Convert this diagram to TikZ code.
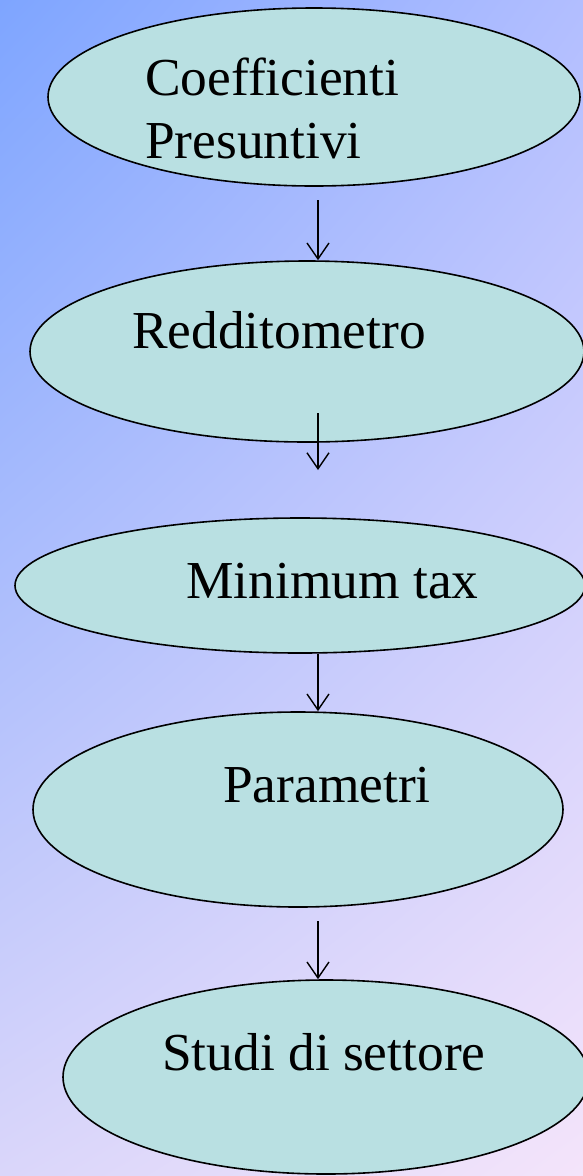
\documentclass[tikz,border=0pt]{standalone}
\usepackage{fontspec}
\setmainfont{Liberation Serif}
\usetikzlibrary{shapes.geometric,arrows.meta,shadings}
\definecolor{bgTL}{RGB}{126,165,255}
\definecolor{bgTR}{RGB}{178,190,255}
\definecolor{bgBL}{RGB}{218,214,250}
\definecolor{bgBR}{RGB}{244,228,250}
\definecolor{ovalfill}{RGB}{185,224,226}
\tikzset{
  oval/.style={ellipse, draw=black, line width=1.6pt, fill=ovalfill, inner sep=0pt},
  lbl/.style={anchor=base west, inner sep=0pt, font=\fontsize{53.4}{63}\selectfont},
  flow/.style={draw=black, line width=1.4pt, -{Straight Barb[length=16pt,width=22pt]}}
}
\begin{document}
\begin{tikzpicture}[x=1pt,y=-1pt]
  % page frame and gradient background
  \useasboundingbox (0,0) rectangle (583,1176);
  \shade[upper left=bgTL, upper right=bgTR, lower left=bgBL, lower right=bgBR]
    (0,0) rectangle (583,1176);

  % ovals
  \node[oval, minimum width=532pt, minimum height=178pt] (coef) at (314,97) {};
  \node[oval, minimum width=554pt, minimum height=181pt] (reddito) at (307,351.5) {};
  \node[oval, minimum width=570pt, minimum height=135pt] (mintax) at (300,585.5) {};
  \node[oval, minimum width=530pt, minimum height=195pt] (param) at (298,809.5) {};
  \node[oval, minimum width=526pt, minimum height=194pt] (studi) at (326,1077) {};

  % labels
  \node[lbl] (tcoef1) at (145,95) {Coefficienti};
  \node[lbl] (tcoef2) at (145,158) {Presuntivi};
  \node[lbl] (treddito) at (132,348) {Redditometro};
  \node[lbl] (tmintax) at (186,598) {Minimum tax};
  \node[lbl] (tparam) at (223,802) {Parametri};
  \node[lbl] (tstudi) at (162,1070) {Studi di settore};

  % arrow end points
  \coordinate (a1s) at (318,200);
  \coordinate (a2s) at (318,413);
  \coordinate (a2e) at (318,470);
  \coordinate (a4s) at (318,921);

  % arrows
  \draw[flow] (a1s) -- (reddito.north -| a1s);
  \draw[flow] (a2s) -- (a2e);
  \draw[flow] (mintax.south -| a1s) -- (param.north -| a1s);
  \draw[flow] (a4s) -- (studi.north -| a4s);
\end{tikzpicture}
\end{document}
